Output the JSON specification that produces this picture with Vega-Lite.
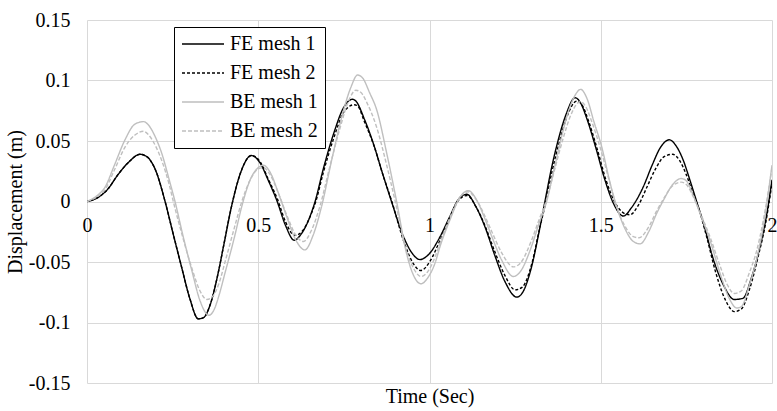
{
  "$schema": "https://vega.github.io/schema/vega-lite/v6.json",
  "width": 685,
  "height": 363,
  "autosize": {"type": "none"},
  "padding": {"left": 87, "top": 20, "right": 5, "bottom": 28},
  "background": "white",
  "datasets": {
    "d": [
      {"s":"FE mesh 1","t":0,"v":0},{"s":"FE mesh 1","t":0.03,"v":0.003},{"s":"FE mesh 1","t":0.06,"v":0.010},{"s":"FE mesh 1","t":0.09,"v":0.022},{"s":"FE mesh 1","t":0.12,"v":0.032},{"s":"FE mesh 1","t":0.155,"v":0.039},{"s":"FE mesh 1","t":0.175,"v":0.037},{"s":"FE mesh 1","t":0.2,"v":0.026},{"s":"FE mesh 1","t":0.228,"v":0},{"s":"FE mesh 1","t":0.25,"v":-0.025},{"s":"FE mesh 1","t":0.276,"v":-0.054},{"s":"FE mesh 1","t":0.3,"v":-0.08},{"s":"FE mesh 1","t":0.325,"v":-0.097},{"s":"FE mesh 1","t":0.34,"v":-0.096},{"s":"FE mesh 1","t":0.36,"v":-0.085},{"s":"FE mesh 1","t":0.383,"v":-0.059},{"s":"FE mesh 1","t":0.4,"v":-0.035},{"s":"FE mesh 1","t":0.422,"v":-0.004},{"s":"FE mesh 1","t":0.45,"v":0.025},{"s":"FE mesh 1","t":0.48,"v":0.038},{"s":"FE mesh 1","t":0.505,"v":0.032},{"s":"FE mesh 1","t":0.53,"v":0.017},{"s":"FE mesh 1","t":0.554,"v":0.001},{"s":"FE mesh 1","t":0.58,"v":-0.02},{"s":"FE mesh 1","t":0.605,"v":-0.032},{"s":"FE mesh 1","t":0.625,"v":-0.027},{"s":"FE mesh 1","t":0.651,"v":-0.0125},{"s":"FE mesh 1","t":0.666,"v":0},{"s":"FE mesh 1","t":0.69,"v":0.027},{"s":"FE mesh 1","t":0.72,"v":0.056},{"s":"FE mesh 1","t":0.75,"v":0.078},{"s":"FE mesh 1","t":0.775,"v":0.0845},{"s":"FE mesh 1","t":0.785,"v":0.083},{"s":"FE mesh 1","t":0.81,"v":0.068},{"s":"FE mesh 1","t":0.836,"v":0.048},{"s":"FE mesh 1","t":0.862,"v":0.024},{"s":"FE mesh 1","t":0.889,"v":0},{"s":"FE mesh 1","t":0.924,"v":-0.029},{"s":"FE mesh 1","t":0.95,"v":-0.043},{"s":"FE mesh 1","t":0.972,"v":-0.048},{"s":"FE mesh 1","t":1.0,"v":-0.043},{"s":"FE mesh 1","t":1.031,"v":-0.029},{"s":"FE mesh 1","t":1.06,"v":-0.012},{"s":"FE mesh 1","t":1.085,"v":0.002},{"s":"FE mesh 1","t":1.109,"v":0.006},{"s":"FE mesh 1","t":1.135,"v":-0.004},{"s":"FE mesh 1","t":1.162,"v":-0.021},{"s":"FE mesh 1","t":1.19,"v":-0.044},{"s":"FE mesh 1","t":1.22,"v":-0.066},{"s":"FE mesh 1","t":1.255,"v":-0.079},{"s":"FE mesh 1","t":1.27,"v":-0.076},{"s":"FE mesh 1","t":1.298,"v":-0.054},{"s":"FE mesh 1","t":1.32,"v":-0.025},{"s":"FE mesh 1","t":1.337,"v":0},{"s":"FE mesh 1","t":1.355,"v":0.026},{"s":"FE mesh 1","t":1.376,"v":0.051},{"s":"FE mesh 1","t":1.4,"v":0.073},{"s":"FE mesh 1","t":1.425,"v":0.0858},{"s":"FE mesh 1","t":1.44,"v":0.082},{"s":"FE mesh 1","t":1.46,"v":0.068},{"s":"FE mesh 1","t":1.485,"v":0.045},{"s":"FE mesh 1","t":1.512,"v":0.018},{"s":"FE mesh 1","t":1.537,"v":-0.0015},{"s":"FE mesh 1","t":1.566,"v":-0.012},{"s":"FE mesh 1","t":1.59,"v":-0.005},{"s":"FE mesh 1","t":1.624,"v":0.012},{"s":"FE mesh 1","t":1.65,"v":0.03},{"s":"FE mesh 1","t":1.675,"v":0.045},{"s":"FE mesh 1","t":1.7,"v":0.051},{"s":"FE mesh 1","t":1.72,"v":0.046},{"s":"FE mesh 1","t":1.741,"v":0.034},{"s":"FE mesh 1","t":1.76,"v":0.018},{"s":"FE mesh 1","t":1.78,"v":0},{"s":"FE mesh 1","t":1.8,"v":-0.018},{"s":"FE mesh 1","t":1.829,"v":-0.048},{"s":"FE mesh 1","t":1.86,"v":-0.07},{"s":"FE mesh 1","t":1.89,"v":-0.081},{"s":"FE mesh 1","t":1.915,"v":-0.08},{"s":"FE mesh 1","t":1.94,"v":-0.063},{"s":"FE mesh 1","t":1.965,"v":-0.037},{"s":"FE mesh 1","t":1.985,"v":-0.01},{"s":"FE mesh 1","t":2.0,"v":0.018},

      {"s":"FE mesh 2","t":0,"v":0},{"s":"FE mesh 2","t":0.03,"v":0.003},{"s":"FE mesh 2","t":0.06,"v":0.010},{"s":"FE mesh 2","t":0.09,"v":0.022},{"s":"FE mesh 2","t":0.12,"v":0.032},{"s":"FE mesh 2","t":0.155,"v":0.039},{"s":"FE mesh 2","t":0.175,"v":0.037},{"s":"FE mesh 2","t":0.2,"v":0.026},{"s":"FE mesh 2","t":0.228,"v":0},{"s":"FE mesh 2","t":0.25,"v":-0.025},{"s":"FE mesh 2","t":0.276,"v":-0.054},{"s":"FE mesh 2","t":0.3,"v":-0.08},{"s":"FE mesh 2","t":0.325,"v":-0.097},{"s":"FE mesh 2","t":0.34,"v":-0.096},{"s":"FE mesh 2","t":0.36,"v":-0.085},{"s":"FE mesh 2","t":0.383,"v":-0.059},{"s":"FE mesh 2","t":0.4,"v":-0.035},{"s":"FE mesh 2","t":0.422,"v":-0.004},{"s":"FE mesh 2","t":0.45,"v":0.025},{"s":"FE mesh 2","t":0.48,"v":0.038},{"s":"FE mesh 2","t":0.505,"v":0.033},{"s":"FE mesh 2","t":0.53,"v":0.018},{"s":"FE mesh 2","t":0.556,"v":0.002},{"s":"FE mesh 2","t":0.58,"v":-0.017},{"s":"FE mesh 2","t":0.607,"v":-0.028},{"s":"FE mesh 2","t":0.63,"v":-0.024},{"s":"FE mesh 2","t":0.655,"v":-0.01},{"s":"FE mesh 2","t":0.668,"v":0},{"s":"FE mesh 2","t":0.69,"v":0.024},{"s":"FE mesh 2","t":0.72,"v":0.052},{"s":"FE mesh 2","t":0.75,"v":0.074},{"s":"FE mesh 2","t":0.78,"v":0.08},{"s":"FE mesh 2","t":0.79,"v":0.079},{"s":"FE mesh 2","t":0.81,"v":0.066},{"s":"FE mesh 2","t":0.838,"v":0.046},{"s":"FE mesh 2","t":0.864,"v":0.022},{"s":"FE mesh 2","t":0.89,"v":0},{"s":"FE mesh 2","t":0.925,"v":-0.033},{"s":"FE mesh 2","t":0.95,"v":-0.05},{"s":"FE mesh 2","t":0.975,"v":-0.057},{"s":"FE mesh 2","t":1.0,"v":-0.05},{"s":"FE mesh 2","t":1.031,"v":-0.032},{"s":"FE mesh 2","t":1.06,"v":-0.013},{"s":"FE mesh 2","t":1.085,"v":0.001},{"s":"FE mesh 2","t":1.11,"v":0.005},{"s":"FE mesh 2","t":1.135,"v":-0.004},{"s":"FE mesh 2","t":1.162,"v":-0.02},{"s":"FE mesh 2","t":1.19,"v":-0.041},{"s":"FE mesh 2","t":1.22,"v":-0.061},{"s":"FE mesh 2","t":1.25,"v":-0.073},{"s":"FE mesh 2","t":1.27,"v":-0.071},{"s":"FE mesh 2","t":1.3,"v":-0.05},{"s":"FE mesh 2","t":1.32,"v":-0.024},{"s":"FE mesh 2","t":1.34,"v":0},{"s":"FE mesh 2","t":1.358,"v":0.025},{"s":"FE mesh 2","t":1.38,"v":0.05},{"s":"FE mesh 2","t":1.4,"v":0.069},{"s":"FE mesh 2","t":1.43,"v":0.083},{"s":"FE mesh 2","t":1.445,"v":0.08},{"s":"FE mesh 2","t":1.465,"v":0.066},{"s":"FE mesh 2","t":1.49,"v":0.043},{"s":"FE mesh 2","t":1.515,"v":0.018},{"s":"FE mesh 2","t":1.54,"v":0},{"s":"FE mesh 2","t":1.57,"v":-0.01},{"s":"FE mesh 2","t":1.585,"v":-0.011},{"s":"FE mesh 2","t":1.61,"v":-0.003},{"s":"FE mesh 2","t":1.635,"v":0.012},{"s":"FE mesh 2","t":1.66,"v":0.027},{"s":"FE mesh 2","t":1.685,"v":0.037},{"s":"FE mesh 2","t":1.71,"v":0.039},{"s":"FE mesh 2","t":1.73,"v":0.034},{"s":"FE mesh 2","t":1.75,"v":0.022},{"s":"FE mesh 2","t":1.77,"v":0.006},{"s":"FE mesh 2","t":1.785,"v":-0.005},{"s":"FE mesh 2","t":1.81,"v":-0.03},{"s":"FE mesh 2","t":1.835,"v":-0.058},{"s":"FE mesh 2","t":1.865,"v":-0.082},{"s":"FE mesh 2","t":1.89,"v":-0.091},{"s":"FE mesh 2","t":1.91,"v":-0.089},{"s":"FE mesh 2","t":1.935,"v":-0.072},{"s":"FE mesh 2","t":1.96,"v":-0.045},{"s":"FE mesh 2","t":1.98,"v":-0.02},{"s":"FE mesh 2","t":2.0,"v":0.015},

      {"s":"BE mesh 1","t":0,"v":0},{"s":"BE mesh 1","t":0.03,"v":0.005},{"s":"BE mesh 1","t":0.053,"v":0.012},{"s":"BE mesh 1","t":0.08,"v":0.03},{"s":"BE mesh 1","t":0.111,"v":0.051},{"s":"BE mesh 1","t":0.14,"v":0.064},{"s":"BE mesh 1","t":0.165,"v":0.066},{"s":"BE mesh 1","t":0.18,"v":0.063},{"s":"BE mesh 1","t":0.2,"v":0.053},{"s":"BE mesh 1","t":0.218,"v":0.04},{"s":"BE mesh 1","t":0.24,"v":0.018},{"s":"BE mesh 1","t":0.257,"v":0},{"s":"BE mesh 1","t":0.28,"v":-0.028},{"s":"BE mesh 1","t":0.306,"v":-0.057},{"s":"BE mesh 1","t":0.33,"v":-0.082},{"s":"BE mesh 1","t":0.356,"v":-0.094},{"s":"BE mesh 1","t":0.37,"v":-0.09},{"s":"BE mesh 1","t":0.385,"v":-0.078},{"s":"BE mesh 1","t":0.403,"v":-0.059},{"s":"BE mesh 1","t":0.43,"v":-0.03},{"s":"BE mesh 1","t":0.452,"v":-0.004},{"s":"BE mesh 1","t":0.475,"v":0.017},{"s":"BE mesh 1","t":0.5,"v":0.028},{"s":"BE mesh 1","t":0.515,"v":0.03},{"s":"BE mesh 1","t":0.535,"v":0.024},{"s":"BE mesh 1","t":0.56,"v":0.006},{"s":"BE mesh 1","t":0.583,"v":-0.0125},{"s":"BE mesh 1","t":0.61,"v":-0.032},{"s":"BE mesh 1","t":0.636,"v":-0.04},{"s":"BE mesh 1","t":0.66,"v":-0.028},{"s":"BE mesh 1","t":0.685,"v":-0.004},{"s":"BE mesh 1","t":0.715,"v":0.035},{"s":"BE mesh 1","t":0.744,"v":0.07},{"s":"BE mesh 1","t":0.77,"v":0.094},{"s":"BE mesh 1","t":0.79,"v":0.1045},{"s":"BE mesh 1","t":0.805,"v":0.102},{"s":"BE mesh 1","t":0.825,"v":0.09},{"s":"BE mesh 1","t":0.846,"v":0.0756},{"s":"BE mesh 1","t":0.875,"v":0.04},{"s":"BE mesh 1","t":0.904,"v":0},{"s":"BE mesh 1","t":0.933,"v":-0.043},{"s":"BE mesh 1","t":0.955,"v":-0.062},{"s":"BE mesh 1","t":0.975,"v":-0.068},{"s":"BE mesh 1","t":0.995,"v":-0.063},{"s":"BE mesh 1","t":1.016,"v":-0.051},{"s":"BE mesh 1","t":1.031,"v":-0.037},{"s":"BE mesh 1","t":1.06,"v":-0.015},{"s":"BE mesh 1","t":1.09,"v":0.004},{"s":"BE mesh 1","t":1.113,"v":0.009},{"s":"BE mesh 1","t":1.14,"v":0},{"s":"BE mesh 1","t":1.16,"v":-0.013},{"s":"BE mesh 1","t":1.182,"v":-0.029},{"s":"BE mesh 1","t":1.21,"v":-0.048},{"s":"BE mesh 1","t":1.245,"v":-0.062},{"s":"BE mesh 1","t":1.265,"v":-0.058},{"s":"BE mesh 1","t":1.298,"v":-0.037},{"s":"BE mesh 1","t":1.32,"v":-0.018},{"s":"BE mesh 1","t":1.342,"v":0},{"s":"BE mesh 1","t":1.365,"v":0.028},{"s":"BE mesh 1","t":1.386,"v":0.054},{"s":"BE mesh 1","t":1.41,"v":0.078},{"s":"BE mesh 1","t":1.43,"v":0.09},{"s":"BE mesh 1","t":1.441,"v":0.0927},{"s":"BE mesh 1","t":1.46,"v":0.085},{"s":"BE mesh 1","t":1.48,"v":0.066},{"s":"BE mesh 1","t":1.503,"v":0.045},{"s":"BE mesh 1","t":1.525,"v":0.018},{"s":"BE mesh 1","t":1.546,"v":-0.004},{"s":"BE mesh 1","t":1.57,"v":-0.022},{"s":"BE mesh 1","t":1.595,"v":-0.033},{"s":"BE mesh 1","t":1.615,"v":-0.035},{"s":"BE mesh 1","t":1.64,"v":-0.025},{"s":"BE mesh 1","t":1.663,"v":-0.01},{"s":"BE mesh 1","t":1.683,"v":0.001},{"s":"BE mesh 1","t":1.71,"v":0.014},{"s":"BE mesh 1","t":1.735,"v":0.019},{"s":"BE mesh 1","t":1.75,"v":0.017},{"s":"BE mesh 1","t":1.77,"v":0.005},{"s":"BE mesh 1","t":1.79,"v":-0.01},{"s":"BE mesh 1","t":1.82,"v":-0.033},{"s":"BE mesh 1","t":1.848,"v":-0.059},{"s":"BE mesh 1","t":1.875,"v":-0.08},{"s":"BE mesh 1","t":1.897,"v":-0.088},{"s":"BE mesh 1","t":1.91,"v":-0.087},{"s":"BE mesh 1","t":1.935,"v":-0.068},{"s":"BE mesh 1","t":1.955,"v":-0.048},{"s":"BE mesh 1","t":1.975,"v":-0.02},{"s":"BE mesh 1","t":2.0,"v":0.03},

      {"s":"BE mesh 2","t":0,"v":0},{"s":"BE mesh 2","t":0.03,"v":0.004},{"s":"BE mesh 2","t":0.053,"v":0.01},{"s":"BE mesh 2","t":0.08,"v":0.026},{"s":"BE mesh 2","t":0.111,"v":0.045},{"s":"BE mesh 2","t":0.14,"v":0.055},{"s":"BE mesh 2","t":0.165,"v":0.058},{"s":"BE mesh 2","t":0.18,"v":0.055},{"s":"BE mesh 2","t":0.2,"v":0.046},{"s":"BE mesh 2","t":0.218,"v":0.034},{"s":"BE mesh 2","t":0.24,"v":0.014},{"s":"BE mesh 2","t":0.252,"v":0},{"s":"BE mesh 2","t":0.28,"v":-0.03},{"s":"BE mesh 2","t":0.306,"v":-0.055},{"s":"BE mesh 2","t":0.33,"v":-0.074},{"s":"BE mesh 2","t":0.35,"v":-0.081},{"s":"BE mesh 2","t":0.365,"v":-0.079},{"s":"BE mesh 2","t":0.385,"v":-0.068},{"s":"BE mesh 2","t":0.403,"v":-0.05},{"s":"BE mesh 2","t":0.43,"v":-0.022},{"s":"BE mesh 2","t":0.452,"v":0},{"s":"BE mesh 2","t":0.475,"v":0.017},{"s":"BE mesh 2","t":0.5,"v":0.027},{"s":"BE mesh 2","t":0.515,"v":0.028},{"s":"BE mesh 2","t":0.535,"v":0.022},{"s":"BE mesh 2","t":0.56,"v":0.006},{"s":"BE mesh 2","t":0.583,"v":-0.011},{"s":"BE mesh 2","t":0.61,"v":-0.028},{"s":"BE mesh 2","t":0.632,"v":-0.033},{"s":"BE mesh 2","t":0.655,"v":-0.024},{"s":"BE mesh 2","t":0.68,"v":-0.004},{"s":"BE mesh 2","t":0.71,"v":0.03},{"s":"BE mesh 2","t":0.74,"v":0.062},{"s":"BE mesh 2","t":0.765,"v":0.084},{"s":"BE mesh 2","t":0.785,"v":0.092},{"s":"BE mesh 2","t":0.8,"v":0.09},{"s":"BE mesh 2","t":0.82,"v":0.08},{"s":"BE mesh 2","t":0.845,"v":0.062},{"s":"BE mesh 2","t":0.875,"v":0.03},{"s":"BE mesh 2","t":0.9,"v":0},{"s":"BE mesh 2","t":0.93,"v":-0.038},{"s":"BE mesh 2","t":0.955,"v":-0.056},{"s":"BE mesh 2","t":0.975,"v":-0.062},{"s":"BE mesh 2","t":0.995,"v":-0.058},{"s":"BE mesh 2","t":1.016,"v":-0.046},{"s":"BE mesh 2","t":1.031,"v":-0.034},{"s":"BE mesh 2","t":1.06,"v":-0.013},{"s":"BE mesh 2","t":1.09,"v":0.004},{"s":"BE mesh 2","t":1.112,"v":0.008},{"s":"BE mesh 2","t":1.14,"v":0},{"s":"BE mesh 2","t":1.16,"v":-0.011},{"s":"BE mesh 2","t":1.182,"v":-0.025},{"s":"BE mesh 2","t":1.21,"v":-0.042},{"s":"BE mesh 2","t":1.245,"v":-0.054},{"s":"BE mesh 2","t":1.265,"v":-0.051},{"s":"BE mesh 2","t":1.298,"v":-0.032},{"s":"BE mesh 2","t":1.32,"v":-0.015},{"s":"BE mesh 2","t":1.34,"v":0},{"s":"BE mesh 2","t":1.365,"v":0.026},{"s":"BE mesh 2","t":1.39,"v":0.052},{"s":"BE mesh 2","t":1.415,"v":0.073},{"s":"BE mesh 2","t":1.44,"v":0.0825},{"s":"BE mesh 2","t":1.455,"v":0.079},{"s":"BE mesh 2","t":1.475,"v":0.065},{"s":"BE mesh 2","t":1.5,"v":0.043},{"s":"BE mesh 2","t":1.525,"v":0.017},{"s":"BE mesh 2","t":1.546,"v":-0.004},{"s":"BE mesh 2","t":1.57,"v":-0.02},{"s":"BE mesh 2","t":1.595,"v":-0.029},{"s":"BE mesh 2","t":1.612,"v":-0.03},{"s":"BE mesh 2","t":1.64,"v":-0.021},{"s":"BE mesh 2","t":1.663,"v":-0.008},{"s":"BE mesh 2","t":1.685,"v":0.003},{"s":"BE mesh 2","t":1.71,"v":0.013},{"s":"BE mesh 2","t":1.735,"v":0.016},{"s":"BE mesh 2","t":1.75,"v":0.014},{"s":"BE mesh 2","t":1.77,"v":0.004},{"s":"BE mesh 2","t":1.79,"v":-0.009},{"s":"BE mesh 2","t":1.82,"v":-0.03},{"s":"BE mesh 2","t":1.848,"v":-0.053},{"s":"BE mesh 2","t":1.87,"v":-0.069},{"s":"BE mesh 2","t":1.89,"v":-0.076},{"s":"BE mesh 2","t":1.91,"v":-0.074},{"s":"BE mesh 2","t":1.935,"v":-0.058},{"s":"BE mesh 2","t":1.955,"v":-0.041},{"s":"BE mesh 2","t":1.975,"v":-0.015},{"s":"BE mesh 2","t":2.0,"v":0.028}
    ]
  },
  "data": {"name": "d"},
  "mark": {"type": "line", "interpolate": "monotone", "strokeWidth": 1.4, "clip": true},
  "encoding": {
    "x": {
      "field": "t", "type": "quantitative",
      "scale": {"domain": [0, 2], "nice": false, "zero": false},
      "axis": {
        "title": "Time (Sec)", "values": [0, 0.5, 1, 1.5, 2], "format": "~g",
        "offset": -181.5, "labelPadding": 14, "labelFlush": false, "labelOverlap": false,
        "titleY": 200.5, "titleBaseline": "alphabetic", "tickSize": 0
      }
    },
    "y": {
      "field": "v", "type": "quantitative",
      "scale": {"domain": [-0.15, 0.15], "nice": false},
      "axis": {
        "title": "Displacement (m)", "values": [-0.15, -0.1, -0.05, 0, 0.05, 0.1, 0.15],
        "labelExpr": "datum.value < 0 ? '-' + format(-datum.value, '~g') : format(datum.value, '~g')",
        "labelPadding": 17, "tickSize": 0, "titlePadding": 3
      }
    },
    "color": {
      "field": "s", "type": "nominal", "title": null,
      "scale": {"domain": ["FE mesh 1", "FE mesh 2", "BE mesh 1", "BE mesh 2"], "range": ["#000000", "#000000", "#bfbfbf", "#bfbfbf"]},
      "legend": {"orient": "none", "legendX": 87, "legendY": 7}
    },
    "strokeDash": {
      "field": "s", "type": "nominal", "title": null,
      "scale": {"domain": ["FE mesh 1", "FE mesh 2", "BE mesh 1", "BE mesh 2"], "range": [[1, 0], [3, 2], [1, 0], [4, 2]]},
      "legend": {"orient": "none", "legendX": 87, "legendY": 7}
    }
  },
  "config": {
    "font": "Liberation Serif",
    "view": {"stroke": null},
    "axis": {
      "labelFont": "Liberation Serif", "labelFontSize": 20, "labelColor": "#000000",
      "titleFont": "Liberation Serif", "titleFontSize": 20, "titleFontWeight": "normal", "titleColor": "#000000",
      "grid": true, "gridColor": "#d9d9d9", "gridWidth": 1, "domain": false, "ticks": false
    },
    "legend": {
      "labelFont": "Liberation Serif", "labelFontSize": 20, "labelColor": "#000000",
      "symbolType": "M-1,0L3.667,0", "symbolSize": 324, "symbolStrokeWidth": 1.4,
      "labelOffset": 29, "rowPadding": 9, "padding": 7,
      "strokeColor": "#000000", "fillColor": "#ffffff", "cornerRadius": 0
    }
  }
}
